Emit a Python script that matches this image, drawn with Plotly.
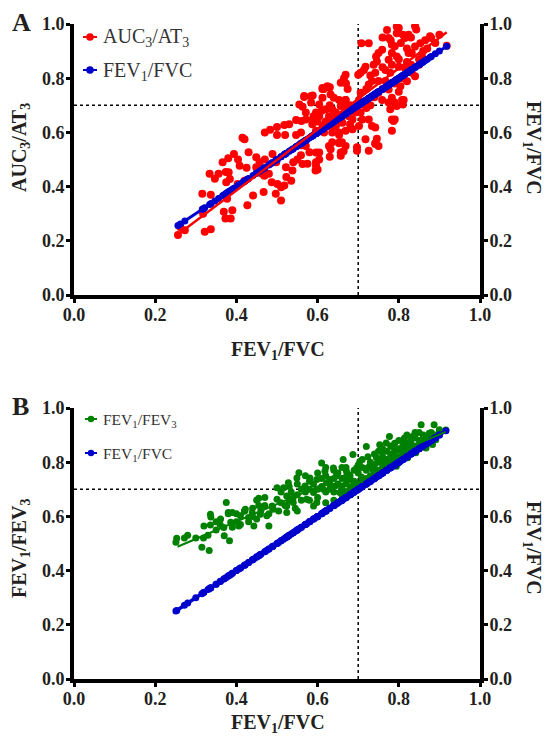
import plotly.graph_objects as go

# ---------------- data ----------------
# Panel A: AUC3/AT3 (y) versus FEV1/FVC (x)
auc_points = [
    (0.256, 0.221), (0.273, 0.239), (0.262, 0.25), (0.316, 0.374), (0.322, 0.233), (0.337, 0.243),
    (0.337, 0.37), (0.334, 0.447), (0.347, 0.429), (0.369, 0.307), (0.373, 0.282), (0.386, 0.282),
    (0.39, 0.313), (0.377, 0.355), (0.356, 0.447), (0.375, 0.416), (0.381, 0.453), (0.403, 0.41),
    (0.42, 0.422), (0.427, 0.331), (0.441, 0.367), (0.467, 0.38), (0.463, 0.447), (0.487, 0.416),
    (0.497, 0.374), (0.501, 0.41), (0.51, 0.349), (0.51, 0.398), (0.518, 0.404), (0.535, 0.422),
    (0.595, 0.459), (0.523, 0.435), (0.48, 0.447), (0.318, 0.30),
    (0.366, 0.49), (0.38, 0.505), (0.394, 0.52), (0.404, 0.50), (0.408, 0.477), (0.425, 0.47),
    (0.43, 0.527), (0.374, 0.454), (0.384, 0.428), (0.538, 0.459), (0.54, 0.49), (0.522, 0.471),
    (0.498, 0.49), (0.489, 0.52), (0.469, 0.44), (0.449, 0.471), (0.457, 0.49), (0.47, 0.50),
    (0.449, 0.508), (0.415, 0.58), (0.42, 0.575), (0.47, 0.60), (0.483, 0.61), (0.50, 0.62),
    (0.518, 0.627), (0.53, 0.63), (0.547, 0.646), (0.56, 0.642), (0.50, 0.59), (0.52, 0.59),
    (0.547, 0.59), (0.571, 0.55), (0.58, 0.527), (0.596, 0.526), (0.604, 0.50), (0.632, 0.538),
    (0.63, 0.51), (0.657, 0.526), (0.596, 0.477), (0.60, 0.463), (0.575, 0.484), (0.56, 0.553),
    (0.559, 0.516), (0.636, 0.564), (0.66, 0.564), (0.653, 0.60), (0.64, 0.624), (0.616, 0.60),
    (0.596, 0.606), (0.587, 0.63), (0.559, 0.60), (0.563, 0.695), (0.555, 0.703), (0.567, 0.731),
    (0.588, 0.736), (0.584, 0.71), (0.612, 0.764), (0.615, 0.76), (0.624, 0.77), (0.63, 0.767),
    (0.632, 0.74), (0.612, 0.728), (0.604, 0.703), (0.596, 0.673), (0.571, 0.673), (0.571, 0.648),
    (0.588, 0.648), (0.604, 0.66), (0.62, 0.685), (0.636, 0.685), (0.628, 0.66), (0.645, 0.673),
    (0.657, 0.697), (0.653, 0.72), (0.669, 0.72), (0.669, 0.697), (0.681, 0.685), (0.677, 0.66),
    (0.694, 0.673), (0.686, 0.648), (0.661, 0.636), (0.645, 0.624), (0.628, 0.624), (0.612, 0.624),
    (0.636, 0.60), (0.653, 0.59), (0.669, 0.606), (0.686, 0.612), (0.702, 0.624), (0.71, 0.648),
    (0.706, 0.673), (0.71, 0.703), (0.702, 0.72), (0.706, 0.746), (0.669, 0.813), (0.665, 0.80),
    (0.70, 0.813), (0.706, 0.82), (0.714, 0.83), (0.718, 0.842), (0.708, 0.929), (0.726, 0.929),
    (0.738, 0.85), (0.746, 0.862), (0.744, 0.88), (0.75, 0.893), (0.759, 0.905), (0.771, 0.978),
    (0.775, 0.948), (0.783, 0.923), (0.795, 0.966), (0.795, 0.99), (0.80, 0.985), (0.81, 0.96),
    (0.815, 0.948), (0.824, 0.96), (0.84, 0.992), (0.843, 0.98), (0.783, 0.893), (0.79, 0.918),
    (0.795, 0.88), (0.775, 0.868), (0.767, 0.83), (0.779, 0.82), (0.783, 0.85), (0.80, 0.842),
    (0.815, 0.838), (0.824, 0.893), (0.832, 0.893), (0.84, 0.917), (0.853, 0.929), (0.865, 0.94),
    (0.877, 0.955), (0.88, 0.948), (0.857, 0.88), (0.832, 0.82), (0.84, 0.807), (0.82, 0.789),
    (0.804, 0.77), (0.80, 0.75), (0.783, 0.728), (0.808, 0.72), (0.79, 0.71), (0.775, 0.71),
    (0.779, 0.685), (0.795, 0.697), (0.81, 0.703), (0.75, 0.746), (0.759, 0.72), (0.775, 0.758),
    (0.734, 0.79), (0.726, 0.777), (0.742, 0.82), (0.75, 0.79), (0.767, 0.79), (0.783, 0.648),
    (0.79, 0.648), (0.783, 0.606), (0.75, 0.55), (0.742, 0.56), (0.734, 0.624), (0.726, 0.648),
    (0.718, 0.575), (0.628, 0.55), (0.653, 0.56), (0.669, 0.55), (0.697, 0.545), (0.812, 0.72),
    (0.787, 0.642), (0.742, 0.618), (0.742, 0.557), (0.746, 0.577), (0.726, 0.532), (0.697, 0.532),
    (0.653, 0.563), (0.657, 0.514), (0.664, 0.53), (0.604, 0.526), (0.596, 0.49), (0.563, 0.483),
    (0.55, 0.50), (0.567, 0.734), (0.584, 0.734), (0.612, 0.76), (0.629, 0.766), (0.657, 0.783),
    (0.67, 0.78), (0.674, 0.76), (0.64, 0.728), (0.669, 0.72),
    (0.62, 0.64), (0.64, 0.65), (0.66, 0.66), (0.68, 0.70), (0.69, 0.69), (0.70, 0.70),
    (0.72, 0.69), (0.60, 0.64), (0.59, 0.66), (0.61, 0.68), (0.63, 0.70), (0.65, 0.64),
    (0.67, 0.68), (0.68, 0.63), (0.73, 0.70), (0.74, 0.73), (0.76, 0.76), (0.77, 0.77),
    (0.79, 0.78), (0.81, 0.80), (0.83, 0.85), (0.85, 0.87), (0.86, 0.90), (0.82, 0.86),
    (0.80, 0.87), (0.76, 0.84), (0.73, 0.81), (0.72, 0.76), (0.85, 0.85), (0.87, 0.91),
    (0.89, 0.93), (0.90, 0.96), (0.78, 0.94), (0.76, 0.95), (0.82, 0.91), (0.805, 0.93),
    (0.83, 0.95), (0.918, 0.92),
]
# regression line of AUC3/AT3 on FEV1/FVC (end points)
auc_fit_x = [0.255, 0.918]
auc_fit_y = [0.222, 0.970]

# Panel B: FEV1/FEV3 (y) versus FEV1/FVC (x)
fev3_points = [
    (0.253, 0.519), (0.272, 0.52), (0.251, 0.505), (0.315, 0.486), (0.333, 0.474), (0.319, 0.52),
    (0.336, 0.568), (0.336, 0.608), (0.32, 0.565), (0.37, 0.529), (0.383, 0.51), (0.38, 0.614),
    (0.375, 0.651), (0.42, 0.62), (0.443, 0.565), (0.48, 0.565), (0.49, 0.626), (0.524, 0.614),
    (0.524, 0.638), (0.55, 0.62), (0.554, 0.761),
    (0.337, 0.598), (0.361, 0.59), (0.369, 0.559), (0.386, 0.578), (0.39, 0.614), (0.41, 0.602),
    (0.406, 0.565), (0.422, 0.626), (0.43, 0.596), (0.439, 0.614), (0.455, 0.667), (0.455, 0.64),
    (0.459, 0.608), (0.475, 0.602), (0.488, 0.638), (0.50, 0.663), (0.50, 0.706), (0.516, 0.706),
    (0.524, 0.675), (0.528, 0.724), (0.504, 0.62), (0.54, 0.651), (0.545, 0.63),
    (0.549, 0.742), (0.569, 0.712), (0.573, 0.663), (0.581, 0.742), (0.59, 0.688), (0.598, 0.651),
    (0.59, 0.638), (0.598, 0.736), (0.61, 0.797), (0.618, 0.767), (0.622, 0.724), (0.614, 0.70),
    (0.63, 0.736), (0.639, 0.779), (0.647, 0.755), (0.643, 0.712), (0.655, 0.688), (0.659, 0.712),
    (0.663, 0.81), (0.671, 0.767), (0.667, 0.742), (0.679, 0.736), (0.683, 0.71), (0.687, 0.828),
    (0.696, 0.779), (0.704, 0.803), (0.708, 0.745), (0.72, 0.858), (0.724, 0.82), (0.728, 0.785),
    (0.736, 0.773), (0.745, 0.816), (0.753, 0.864), (0.757, 0.84), (0.761, 0.797), (0.769, 0.871),
    (0.777, 0.895), (0.781, 0.859), (0.785, 0.822), (0.794, 0.785), (0.802, 0.846), (0.806, 0.822),
    (0.814, 0.889), (0.818, 0.852), (0.822, 0.816), (0.834, 0.895), (0.838, 0.858), (0.842, 0.835),
    (0.855, 0.938), (0.859, 0.883), (0.867, 0.852), (0.875, 0.907), (0.887, 0.938), (0.883, 0.865),
    (0.891, 0.883), (0.916, 0.919),
    (0.35, 0.55), (0.36, 0.57), (0.39, 0.56), (0.40, 0.58), (0.41, 0.57), (0.42, 0.62),
    (0.43, 0.58), (0.44, 0.60), (0.45, 0.59), (0.46, 0.62), (0.47, 0.64), (0.48, 0.61),
    (0.49, 0.63), (0.51, 0.65), (0.52, 0.64), (0.53, 0.66), (0.535, 0.69), (0.54, 0.67),
    (0.55, 0.68), (0.56, 0.70), (0.56, 0.66), (0.57, 0.69), (0.58, 0.70), (0.58, 0.66),
    (0.59, 0.72), (0.60, 0.70), (0.60, 0.67), (0.61, 0.71), (0.61, 0.74), (0.62, 0.69),
    (0.62, 0.75), (0.63, 0.70), (0.63, 0.72), (0.64, 0.74), (0.64, 0.69), (0.65, 0.72),
    (0.65, 0.76), (0.66, 0.70), (0.66, 0.74), (0.67, 0.72), (0.67, 0.69), (0.67, 0.78),
    (0.68, 0.75), (0.68, 0.70), (0.69, 0.73), (0.69, 0.77), (0.69, 0.71), (0.70, 0.72),
    (0.70, 0.76), (0.70, 0.79), (0.71, 0.73), (0.71, 0.78), (0.71, 0.81), (0.72, 0.74),
    (0.72, 0.77), (0.73, 0.75), (0.73, 0.80), (0.74, 0.76), (0.74, 0.79), (0.74, 0.83),
    (0.75, 0.77), (0.75, 0.80), (0.76, 0.78), (0.76, 0.82), (0.76, 0.85), (0.77, 0.79),
    (0.77, 0.81), (0.77, 0.84), (0.78, 0.80), (0.78, 0.83), (0.78, 0.86), (0.79, 0.81),
    (0.79, 0.84), (0.79, 0.87), (0.80, 0.82), (0.80, 0.85), (0.80, 0.88), (0.81, 0.83),
    (0.81, 0.86), (0.82, 0.84), (0.82, 0.87), (0.82, 0.90), (0.83, 0.84), (0.83, 0.86),
    (0.83, 0.88), (0.84, 0.86), (0.84, 0.89), (0.85, 0.86), (0.85, 0.88), (0.85, 0.91),
    (0.86, 0.87), (0.86, 0.90), (0.87, 0.88), (0.87, 0.89), (0.88, 0.89), (0.88, 0.91),
    (0.89, 0.90), (0.90, 0.91), (0.90, 0.92), (0.84, 0.91), (0.81, 0.88), (0.79, 0.85),
    (0.75, 0.84), (0.73, 0.78), (0.66, 0.78), (0.64, 0.77), (0.62, 0.78), (0.60, 0.76),
    (0.58, 0.73), (0.57, 0.75), (0.55, 0.72), (0.53, 0.71), (0.51, 0.69), (0.47, 0.67),
    (0.45, 0.66), (0.44, 0.63), (0.40, 0.61), (0.38, 0.61), (0.35, 0.58), (0.33, 0.53),
    (0.30, 0.52), (0.28, 0.53),
    (0.62, 0.65), (0.64, 0.66), (0.66, 0.68), (0.68, 0.69), (0.70, 0.71), (0.72, 0.73),
    (0.75, 0.76), (0.78, 0.79), (0.80, 0.81),
]
fev3_fit_x = [0.255, 0.915]
fev3_fit_y = [0.488, 0.912]

tick_vals = [0.0, 0.2, 0.4, 0.6, 0.8, 1.0]
tick_text = ["0.0", "0.2", "0.4", "0.6", "0.8", "1.0"]

auc_x = [p[0] for p in auc_points]
auc_y = [p[1] for p in auc_points]
fev3_x = [p[0] for p in fev3_points]
fev3_y = [p[1] for p in fev3_points]
# FEV1/FVC plotted against itself (identity series)
fvc_a = sorted(auc_x)
fvc_b = sorted(fev3_x)

RED = "#ff0000"
BLUE = "#0000cd"
GREEN = "#008000"
SERIF = "Liberation Serif"
DARK = "#231f20"

# ---------------- geometry helpers (pixels -> paper) ----------------
W, H = 548, 738
ML, MR, MT, MB = 74, 68, 24, 59
PW, PH = W - ML - MR, H - MT - MB


def px(xp):
    return (xp - ML) / PW


def py(yp):
    return (H - MB - yp) / PH


fig = go.Figure()

# Panel A
fig.add_trace(go.Scatter(x=auc_x, y=auc_y, mode="markers", xaxis="x", yaxis="y",
                         marker=dict(color=RED, size=8, line=dict(width=0)), showlegend=False))
fig.add_trace(go.Scatter(x=fvc_a, y=fvc_a, mode="lines+markers", xaxis="x", yaxis="y3",
                         line=dict(color=BLUE, width=3), marker=dict(color=BLUE, size=7),
                         showlegend=False))
fig.add_trace(go.Scatter(x=auc_fit_x, y=auc_fit_y, mode="lines", xaxis="x", yaxis="y3",
                         line=dict(color=RED, width=2.5), showlegend=False))

# Panel B
fig.add_trace(go.Scatter(x=fev3_x, y=fev3_y, mode="markers", xaxis="x2", yaxis="y2",
                         marker=dict(color=GREEN, size=7, line=dict(width=0)), showlegend=False))
fig.add_trace(go.Scatter(x=fvc_b, y=fvc_b, mode="lines+markers", xaxis="x2", yaxis="y4",
                         line=dict(color=BLUE, width=3.5), marker=dict(color=BLUE, size=7),
                         showlegend=False))
fig.add_trace(go.Scatter(x=fev3_fit_x, y=fev3_fit_y, mode="lines", xaxis="x2", yaxis="y4",
                         line=dict(color=GREEN, width=2), showlegend=False))

axis_common = dict(
    range=[0, 1], tickmode="array", tickvals=tick_vals, ticktext=tick_text,
    showgrid=False, zeroline=False, showline=True, linecolor="black", linewidth=4,
    ticks="outside", ticklen=4, tickwidth=3, tickcolor="black",
    tickfont=dict(family=SERIF, size=18, color=DARK, weight="bold"),
    fixedrange=True,
)
xaxis_common = dict(axis_common, ticklabelstandoff=-4)
yaxis_common = dict(axis_common, ticklabelstandoff=-2)

dom_a = [py(297 - 2), 1.0]
dom_b = [0.0, py(408)]

fig.update_layout(
    width=W, height=H,
    margin=dict(l=ML, r=MR, t=MT, b=MB),
    paper_bgcolor="white", plot_bgcolor="white",
    showlegend=False,
    xaxis=dict(xaxis_common, domain=[0, 1], anchor="y"),
    yaxis=dict(yaxis_common, domain=dom_a, anchor="x"),
    yaxis3=dict(yaxis_common, overlaying="y", side="right", anchor="x"),
    xaxis2=dict(xaxis_common, domain=[0, 1], anchor="y2"),
    yaxis2=dict(yaxis_common, domain=dom_b, anchor="x2"),
    yaxis4=dict(yaxis_common, overlaying="y2", side="right", anchor="x2"),
)

shapes = []
for xa, ya in (("x", "y"), ("x2", "y2")):
    shapes.append(dict(type="line", xref=xa, yref=ya + " domain", x0=0.7, x1=0.7, y0=0, y1=1,
                       line=dict(color="black", width=1.5, dash="dot"), layer="below"))
    shapes.append(dict(type="line", xref=xa + " domain", yref=ya, x0=0, x1=1, y0=0.7, y1=0.7,
                       line=dict(color="black", width=1.5, dash="dot"), layer="below"))

annotations = []


def legend_item(xl, xr, yc, color, r, text, size):
    shapes.append(dict(type="line", xref="paper", yref="paper", x0=px(xl), x1=px(xr),
                       y0=py(yc), y1=py(yc), line=dict(color=color, width=2)))
    xc = (xl + xr) / 2
    shapes.append(dict(type="circle", xref="paper", yref="paper",
                       x0=px(xc - r), x1=px(xc + r), y0=py(yc + r), y1=py(yc - r),
                       fillcolor=color, line=dict(color=color, width=0)))
    annotations.append(dict(xref="paper", yref="paper", x=px(xr + 4), y=py(yc + 1),
                            xanchor="left", yanchor="middle", showarrow=False, text=text,
                            font=dict(family=SERIF, size=size, color="#333333")))


legend_item(83, 97, 37, RED, 3.8, "AUC<sub>3</sub>/AT<sub>3</sub>", 20)
legend_item(83, 97, 70, BLUE, 3.8, "FEV<sub>1</sub>/FVC", 20)
legend_item(85, 97, 419, GREEN, 3.2, "FEV<sub>1</sub>/FEV<sub>3</sub>", 15.5)
legend_item(85, 97, 453, BLUE, 3.2, "FEV<sub>1</sub>/FVC", 15.5)


def label(xp, yp, text, size, angle=0):
    annotations.append(dict(xref="paper", yref="paper", x=px(xp), y=py(yp), text=text,
                            showarrow=False, xanchor="center", yanchor="middle", textangle=angle,
                            font=dict(family=SERIF, size=size, color=DARK, weight="bold")))


label(22, 23, "A", 26)
label(20, 406, "B", 26)
label(278, 350, "FEV<sub>1</sub>/FVC", 20)
label(20, 148, "AUC<sub>3</sub>/AT<sub>3</sub>", 20, -90)
label(533, 148, "FEV<sub>1</sub>/FVC", 20, 90)
label(278, 723, "FEV<sub>1</sub>/FVC", 20)
label(20, 548, "FEV<sub>1</sub>/FEV<sub>3</sub>", 20, -90)
label(533, 548, "FEV<sub>1</sub>/FVC", 20, 90)

fig.update_layout(shapes=shapes, annotations=annotations)

fig.write_html("out.html",
               config={"displayModeBar": False},
               post_script="document.body.style.margin='0';document.body.style.padding='0';")
